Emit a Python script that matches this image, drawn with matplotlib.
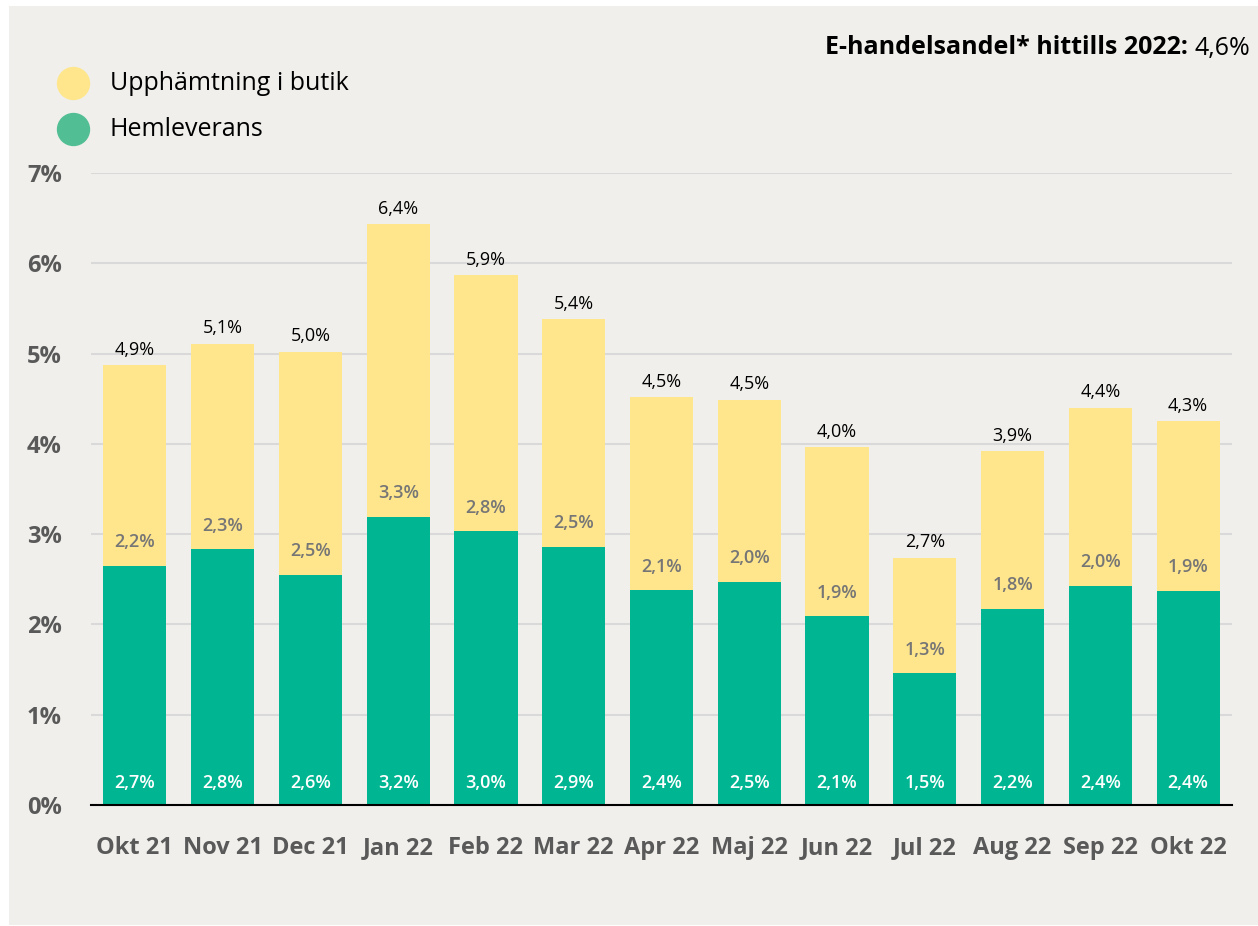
import matplotlib
matplotlib.use("Agg")
import matplotlib.pyplot as plt
from matplotlib.patches import Rectangle
from matplotlib.lines import Line2D

plt.rcParams['font.family'] = ['Open Sans', 'DejaVu Sans']

months = ['Okt 21', 'Nov 21', 'Dec 21', 'Jan 22', 'Feb 22', 'Mar 22', 'Apr 22',
          'Maj 22', 'Jun 22', 'Jul 22', 'Aug 22', 'Sep 22', 'Okt 22']
hemleverans = [2.65, 2.83, 2.55, 3.19, 3.03, 2.86, 2.38, 2.47, 2.09, 1.46, 2.17, 2.43, 2.37]
upphamtning = [2.22, 2.28, 2.47, 3.24, 2.84, 2.52, 2.14, 2.02, 1.87, 1.28, 1.75, 1.97, 1.88]
hem_labels = ['2,7%', '2,8%', '2,6%', '3,2%', '3,0%', '2,9%', '2,4%', '2,5%', '2,1%', '1,5%', '2,2%', '2,4%', '2,4%']
upph_labels = ['2,2%', '2,3%', '2,5%', '3,3%', '2,8%', '2,5%', '2,1%', '2,0%', '1,9%', '1,3%', '1,8%', '2,0%', '1,9%']
total_labels = ['4,9%', '5,1%', '5,0%', '6,4%', '5,9%', '5,4%', '4,5%', '4,5%', '4,0%', '2,7%', '3,9%', '4,4%', '4,3%']
yticks = [0, 1, 2, 3, 4, 5, 6, 7]

GREEN = '#00B592'
YELLOW = '#FFE68C'
BG = '#F0EFEB'

W, H = 1258, 926
fig = plt.figure(figsize=(W / 100, H / 100), dpi=100, facecolor='white')
fig.add_artist(Rectangle((9 / W, 1 / H), 1 - 9 / W, (H - 7) / H,
                         transform=fig.transFigure, facecolor=BG, edgecolor='none', zorder=-10))

ax = fig.add_axes([91 / W, (H - 805) / H, (1232 - 91) / W, (805 - 173) / H])
ax.set_facecolor('none')

x = list(range(len(months)))
totals = [h + u for h, u in zip(hemleverans, upphamtning)]
ax.bar(x, hemleverans, width=0.72, color=GREEN, zorder=3)
ax.bar(x, upphamtning, width=0.72, bottom=hemleverans, color=YELLOW, zorder=3)

for i in x:
    ax.annotate(hem_labels[i], (i, 0), xytext=(0, 16), textcoords='offset points',
                ha='center', va='center', color='white', fontsize=13, fontweight='semibold', zorder=5)
    ax.annotate(upph_labels[i], (i, hemleverans[i]), xytext=(0, 17), textcoords='offset points',
                ha='center', va='center', color='#767676', fontsize=13, fontweight='semibold', zorder=5)
    ax.annotate(total_labels[i], (i, totals[i]), xytext=(0, 11), textcoords='offset points',
                ha='center', va='center', color='black', fontsize=13, zorder=5)

ax.set_xlim(-0.5, 12.5)
ax.set_ylim(0, 7)
ax.set_yticks(yticks)
ax.set_yticklabels([f'{v}%' for v in yticks])
ax.set_xticks(x)
ax.set_xticklabels(months)
ax.tick_params(axis='y', length=0, pad=21, labelsize=17, labelcolor='#595959')
ax.tick_params(axis='x', length=0, pad=22, labelsize=17, labelcolor='#595959')
for lab in ax.get_xticklabels() + ax.get_yticklabels():
    lab.set_fontweight('bold')

ax.grid(axis='y', color='#D9D9D9', linewidth=1.5, zorder=0)
for s in ['top', 'right', 'left']:
    ax.spines[s].set_visible(False)
ax.spines['bottom'].set_color('black')
ax.spines['bottom'].set_linewidth(1.5)
ax.spines['bottom'].set_zorder(4)

# legend
for yy, col, txt in [(83, '#FFE68C', 'Upphämtning i butik'), (129, '#52BE94', 'Hemleverans')]:
    fig.add_artist(Line2D([73 / W], [1 - yy / H], marker='o', markersize=23,
                          color=col, linestyle='none', transform=fig.transFigure))
    fig.text(110 / W, 1 - yy / H, txt, fontsize=18, va='center', ha='left', color='black')

# title (right aligned, bold + regular)
t2 = fig.text(1250 / W, 1 - 48 / H, '4,6%', fontsize=18, ha='right', va='center', color='black')
fig.canvas.draw()
bb = t2.get_window_extent()
fig.text((bb.x0 - 6) / W, 1 - 48 / H, 'E-handelsandel* hittills 2022:', fontsize=18,
         fontweight='bold', ha='right', va='center', color='black')

fig.savefig('out.png', dpi=100, facecolor='white')
